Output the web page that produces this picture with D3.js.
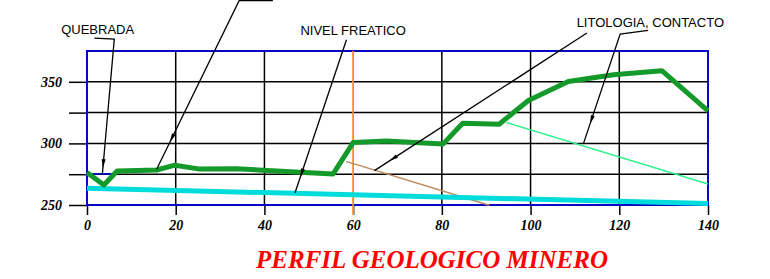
<!DOCTYPE html>
<html>
<head>
<meta charset="utf-8">
<script src="https://cdn.jsdelivr.net/npm/d3@7"></script>
<style>
  body { margin: 0; background: #fff; }
</style>
</head>
<body>
<div id="chart"></div>
<script>
// Chainage (m) and elevation (m)
const chainage = [0, 3.8, 6.8, 15.7, 19.8, 25.1, 33.7, 48, 55.5, 60, 67.5, 80.3, 84.7, 92.9, 99.5, 108.5, 118.7, 129.6, 140];
const surface = [276.3, 266.3, 277.6, 278.4, 282.3, 279.3, 279.5, 276.6, 275.2, 300.7, 302, 299.6, 316.4, 315.6, 334.8, 350.2, 355.7, 359, 326.4];

const waterX = [0, 140];
const waterY = [263.6, 251.2];

const contactBrownX = [58.4, 90.7];
const contactBrownY = [285.4, 249.8];
const contactGreenX = [94.6, 140];
const contactGreenY = [316.9, 267];

const quebradaX = [0.7, 6.3, 3.7];
const quebradaY = [275.2, 275.2, 266.7];

const nivelFreaticoX = 60;

const xTicks = [0, 20, 40, 60, 80, 100, 120, 140];
const yTicks = [250, 275, 300, 325, 350];

// Leader lines for the callouts, in chart units
const leaders = [
    { pts: [[1.65, 385.5], [6.15, 384.7], [3.45, 274.4]], arrow: 0.95 },
    { pts: [[41.9, 415.9], [34.3, 415.9], [15.7, 279]], arrow: 0.84 },
    { pts: [[58.5, 384.1], [46.9, 260]], arrow: 0.9 },
    { pts: [[112.7, 389.6], [64.8, 277.9]], arrow: 0.93 },
    { pts: [[126.5, 391.7], [120.2, 388.8], [111.9, 299.6]], arrow: 0.82 }
];
const calloutText = ["QUEBRADA", "NIVEL FREATICO", "LITOLOGIA, CONTACTO"];
const calloutAt = [[2.4, 388.5], [60, 388], [127, 394.5]];

const width = 770, height = 279;
const margin = { top: 51, right: 62, bottom: 74, left: 87 };

const svg = d3.select("#chart")
    .append("svg")
    .attr("width", width)
    .attr("height", height);

const xScale = d3.scaleLinear().domain([0, 140]).range([margin.left, width - margin.right]);
const yScale = d3.scaleLinear().domain([250, 375]).range([height - margin.bottom, margin.top]);

const x0 = xScale(0), x1 = xScale(140), yTop = yScale(375), yBot = yScale(250);

// Grid (the 60 m line is the orange water-table marker)
svg.append("g")
    .selectAll("line.v")
    .data(xTicks.slice(1, -1).filter(d => d !== nivelFreaticoX))
    .join("line")
    .attr("x1", d => xScale(d)).attr("x2", d => xScale(d))
    .attr("y1", yTop).attr("y2", yBot)
    .attr("stroke", "#000").attr("stroke-width", 1.5);

svg.append("g")
    .selectAll("line.h")
    .data(yTicks.slice(1))
    .join("line")
    .attr("x1", x0).attr("x2", x1)
    .attr("y1", d => yScale(d)).attr("y2", d => yScale(d))
    .attr("stroke", "#000").attr("stroke-width", 1.5);

// Y axis (ticks sticking out left, labels every 50)
svg.append("g")
    .attr("transform", `translate(${x0},0)`)
    .call(d3.axisLeft(yScale).tickValues(yTicks).tickSize(18).tickPadding(7)
        .tickFormat(d => d % 50 === 0 ? d : ""))
    .call(g => g.select(".domain").remove())
    .call(g => g.selectAll("line").attr("stroke", "#000").attr("stroke-width", 1.5))
    .call(g => g.selectAll("text")
        .attr("font-family", "'Liberation Serif', 'Times New Roman', serif")
        .attr("font-style", "italic").attr("font-weight", "bold")
        .attr("font-size", "14px").attr("fill", "#000"));

// X axis
svg.append("g")
    .attr("transform", `translate(0,${yBot})`)
    .call(d3.axisBottom(xScale).tickValues(xTicks).tickSize(10).tickPadding(5))
    .call(g => g.select(".domain").remove())
    .call(g => g.selectAll("line").attr("stroke", "#000").attr("stroke-width", 1.5))
    .call(g => g.selectAll("text")
        .attr("font-family", "'Liberation Serif', 'Times New Roman', serif")
        .attr("font-style", "italic").attr("font-weight", "bold")
        .attr("font-size", "14px").attr("fill", "#000"));

// Blue frame
svg.append("rect")
    .attr("x", x0).attr("y", yTop)
    .attr("width", x1 - x0).attr("height", yBot - yTop)
    .attr("fill", "none").attr("stroke", "#0808c4").attr("stroke-width", 2);

// Water table marker (orange vertical)
svg.append("line")
    .attr("x1", xScale(nivelFreaticoX)).attr("x2", xScale(nivelFreaticoX))
    .attr("y1", yTop).attr("y2", yBot + 10)
    .attr("stroke", "#ff8a1c").attr("stroke-width", 1.8);

const line = d3.line().x(d => xScale(d[0])).y(d => yScale(d[1]));

// Lithology contacts
svg.append("path")
    .attr("d", line(d3.zip(contactBrownX, contactBrownY)))
    .attr("fill", "none").attr("stroke", "#c08a5c").attr("stroke-width", 1.5);
svg.append("path")
    .attr("d", line(d3.zip(contactGreenX, contactGreenY)))
    .attr("fill", "none").attr("stroke", "#2ef08c").attr("stroke-width", 1.5);

// Water level (cyan)
svg.append("path")
    .attr("d", line(d3.zip(waterX, waterY)))
    .attr("fill", "none").attr("stroke", "#00dcdc").attr("stroke-width", 5);

// Quebrada triangle
svg.append("path")
    .attr("d", line(d3.zip(quebradaX, quebradaY)) + "Z")
    .attr("fill", "none").attr("stroke", "#0808c4").attr("stroke-width", 2);

// Ground surface (green)
svg.append("path")
    .attr("d", line(d3.zip(chainage, surface)))
    .attr("fill", "none").attr("stroke", "#139a2b").attr("stroke-width", 5)
    .attr("stroke-linejoin", "round");

// Callout leaders with small arrowheads
leaders.forEach(l => {
    svg.append("path")
        .attr("d", line(l.pts))
        .attr("fill", "none").attr("stroke", "#000").attr("stroke-width", 1.3);
    const a = l.pts[l.pts.length - 2], b = l.pts[l.pts.length - 1];
    const ax = xScale(a[0]), ay = yScale(a[1]), bx = xScale(b[0]), by = yScale(b[1]);
    const len = Math.hypot(bx - ax, by - ay);
    const ux = (bx - ax) / len, uy = (by - ay) / len;
    const tx = ax + (bx - ax) * l.arrow, ty = ay + (by - ay) * l.arrow;
    const bxp = tx - ux * 9, byp = ty - uy * 9;
    svg.append("path")
        .attr("d", `M${tx},${ty}L${bxp - uy * 2},${byp + ux * 2}L${bxp + uy * 2},${byp - ux * 2}Z`)
        .attr("fill", "#000");
});

svg.append("g")
    .selectAll("text")
    .data(calloutText)
    .join("text")
    .attr("x", (d, i) => xScale(calloutAt[i][0]))
    .attr("y", (d, i) => yScale(calloutAt[i][1]))
    .attr("text-anchor", "middle")
    .attr("font-family", "'Liberation Sans', Arial, sans-serif")
    .attr("font-size", "13px")
    .attr("fill", "#000")
    .text(d => d);

// Title
svg.append("text")
    .attr("x", 432)
    .attr("y", 268)
    .attr("text-anchor", "middle")
    .attr("font-family", "'Liberation Serif', 'Times New Roman', serif")
    .attr("font-style", "italic").attr("font-weight", "bold")
    .attr("font-size", "25px")
    .attr("fill", "#ff0000")
    .text("PERFIL GEOLOGICO MINERO");
</script>
</body>
</html>
